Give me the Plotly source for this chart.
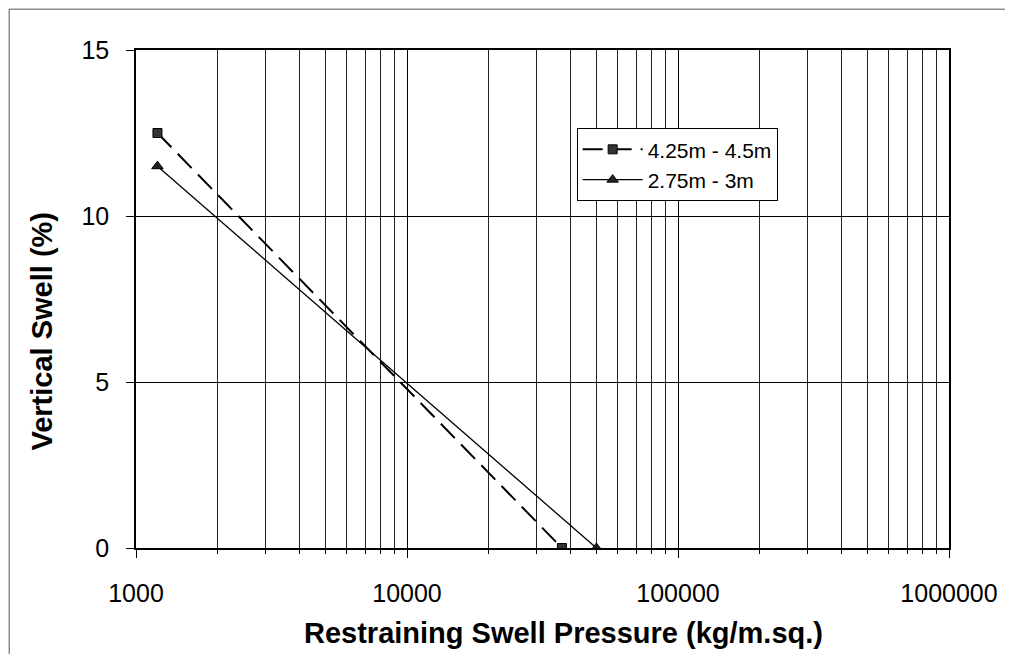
import plotly.graph_objects as go

series_names = ["4.25m - 4.5m", "2.75m - 3m"]
pressure_a = [1200, 37300]
swell_a = [12.5, 0.0]
pressure_b = [1200, 50000]
swell_b = [11.5, 0.0]
x_tick_vals = [1000, 10000, 100000, 1000000]
x_tick_text = ["1000", "10000", "100000", "1000000"]
y_tick_vals = [0, 5, 10, 15]
x_title = "Restraining Swell Pressure (kg/m.sq.)"
y_title = "Vertical Swell (%)"

FONT = "Liberation Sans, Arial, sans-serif"

fig = go.Figure()
fig.add_trace(go.Scatter(
    x=pressure_a, y=swell_a, name=series_names[0], mode="lines+markers",
    line=dict(color="black", width=2, dash="20px,9px"),
    marker=dict(symbol="square", size=9, color="#333333", line=dict(color="black", width=1)),
))
fig.add_trace(go.Scatter(
    x=pressure_b, y=swell_b, name=series_names[1], mode="lines+markers",
    line=dict(color="black", width=1.3),
    marker=dict(symbol="triangle-up", size=10, color="#222222", line=dict(color="black", width=1)),
))

fig.update_layout(
    width=1005, height=646,
    margin=dict(l=128, r=64, t=42, b=106),
    paper_bgcolor="white", plot_bgcolor="white",
    font=dict(family=FONT, size=25, color="black"),
    showlegend=True,
    legend=dict(x=0.542, y=0.843, xanchor="left", yanchor="top",
                bordercolor="black", borderwidth=1, bgcolor="white",
                font=dict(size=21, family=FONT), itemwidth=60,
                tracegroupgap=2),
    xaxis=dict(type="log", range=[3, 6], tickvals=x_tick_vals, ticktext=x_tick_text,
               tickfont=dict(size=25),
               showgrid=True, gridcolor="black", gridwidth=1,
               minor=dict(showgrid=True, gridcolor="#222222", gridwidth=1, dtick="D1",
                          ticks="outside", ticklen=4, tickcolor="black"),
               ticks="outside", ticklen=8, tickcolor="black", ticklabelstandoff=14,
               showline=True, linecolor="black", linewidth=1.5, mirror=True,
               zeroline=False),
    yaxis=dict(range=[0, 15], tickvals=y_tick_vals, tickfont=dict(size=25),
               showgrid=True, gridcolor="black", gridwidth=1,
               ticks="outside", ticklen=8, tickcolor="black", ticklabelstandoff=12,
               showline=True, linecolor="black", linewidth=1.5, mirror=True,
               zeroline=False),
    annotations=[
        dict(text="<b>" + x_title + "</b>", xref="paper", yref="paper", x=0.526, y=-0.171,
             xanchor="center", yanchor="middle", showarrow=False,
             font=dict(size=29, family=FONT)),
        dict(text="<b>" + y_title + "</b>", xref="paper", yref="paper", x=-0.116, y=0.436,
             xanchor="center", yanchor="middle", showarrow=False, textangle=-90,
             font=dict(size=29, family=FONT)),
    ],
)

# outer frame of the original figure
fig.add_shape(type="line", xref="paper", yref="paper", x0=-0.156, x1=-0.156, y0=-0.22, y1=1.082,
              line=dict(color="#555555", width=1))
fig.add_shape(type="line", xref="paper", yref="paper", x0=-0.156, x1=1.08, y0=1.082, y1=1.082,
              line=dict(color="#555555", width=1))

fig.write_html("out.html")
